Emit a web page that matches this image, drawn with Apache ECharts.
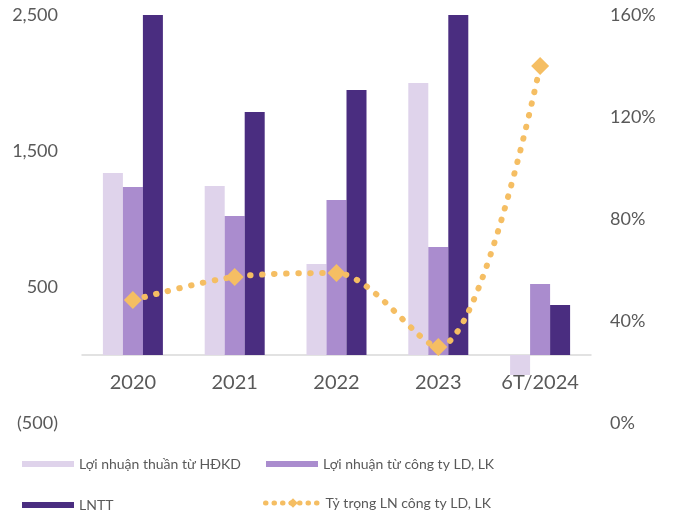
<!DOCTYPE html>
<html>
<head>
<meta charset="utf-8">
<script src="https://cdn.jsdelivr.net/npm/echarts@6/dist/echarts.min.js"></script>
<style>
  html, body { margin: 0; padding: 0; background: #fff; }
  #chart { width: 675px; height: 517px; }
</style>
</head>
<body>
<div id="chart"></div>
<script>
const categories = ["2020", "2021", "2022", "2023", "6T/2024"];
const loiNhuanHDKD = [1338, 1243, 669, 2000, -147];
const loiNhuanLDLK = [1235, 1022, 1140, 794, 522];
const lntt = [2500, 1787, 1949, 2500, 368];
const tyTrong = [48.2, 57.3, 58.8, 29.8, 140];

const textColor = "#595959";
const font = "Lato, 'Open Sans', sans-serif";

const chart = echarts.init(document.getElementById("chart"), null, { renderer: "canvas" });

function legendAt(name, left, top, extra) {
  return Object.assign({
    data: [name],
    left: left,
    top: top,
    padding: 0,
    itemWidth: 52,
    itemHeight: 6,
    itemGap: 0,
    textStyle: { color: textColor, fontSize: 14, fontFamily: font },
    selectedMode: false,
  }, extra || {});
}

// grid: 408px tall for 3000 units, zero sits 68px above the bottom edge
const option = {
  backgroundColor: "#fff",
  animation: false,
  grid: { left: 82, right: 84, top: 15, bottom: 94 },
  legend: [
    legendAt("Lợi nhuận thuần từ HĐKD", 22, 457, { icon: "rect" }),
    legendAt("Lợi nhuận từ công ty LD, LK", 266, 457, { icon: "rect" }),
    legendAt("LNTT", 22, 498, { icon: "rect" }),
    legendAt("Tỷ trọng LN công ty LD, LK", 263, 496, {
      itemHeight: 12,
      itemWidth: 55,
      lineStyle: { width: 5, type: [0.5, 8], cap: "round" },
    }),
  ],
  xAxis: {
    type: "category",
    data: categories,
    offset: -68,
    axisLine: { onZero: false, lineStyle: { color: "#d9d9d9", width: 1.5 } },
    axisTick: { show: false },
    axisLabel: { color: textColor, fontSize: 20, fontFamily: font, margin: 18 },
  },
  yAxis: [
    {
      type: "value",
      min: -500,
      max: 2500,
      interval: 1000,
      splitLine: { show: false },
      axisLine: { show: false },
      axisTick: { show: false },
      axisLabel: {
        color: textColor,
        fontSize: 18,
        fontFamily: font,
        margin: 24,
        formatter: (v) => v < 0 ? "(" + Math.abs(v).toLocaleString("en-US") + ")" : v.toLocaleString("en-US"),
      },
    },
    {
      type: "value",
      min: 0,
      max: 160,
      interval: 40,
      splitLine: { show: false },
      axisLine: { show: false },
      axisTick: { show: false },
      axisLabel: { color: textColor, fontSize: 18, fontFamily: font, margin: 19, formatter: "{value}%" },
    },
  ],
  series: [
    {
      name: "Lợi nhuận thuần từ HĐKD",
      type: "bar",
      data: loiNhuanHDKD,
      barWidth: 20,
      barGap: "0%",
      itemStyle: { color: "#dfd3eb" },
    },
    {
      name: "Lợi nhuận từ công ty LD, LK",
      type: "bar",
      data: loiNhuanLDLK,
      barWidth: 20,
      barGap: "0%",
      itemStyle: { color: "#aa8cce" },
    },
    {
      name: "LNTT",
      type: "bar",
      data: lntt,
      barWidth: 20,
      barGap: "0%",
      itemStyle: { color: "#4a2d80" },
    },
    {
      name: "Tỷ trọng LN công ty LD, LK",
      type: "line",
      yAxisIndex: 1,
      data: tyTrong,
      smooth: 0.3,
      symbol: "diamond",
      symbolSize: 18,
      itemStyle: { color: "#f5be63" },
      lineStyle: { color: "#f5be63", width: 6, type: [0.5, 11.5], cap: "round" },
      z: 5,
    },
  ],
};

chart.setOption(option);
</script>
</body>
</html>
